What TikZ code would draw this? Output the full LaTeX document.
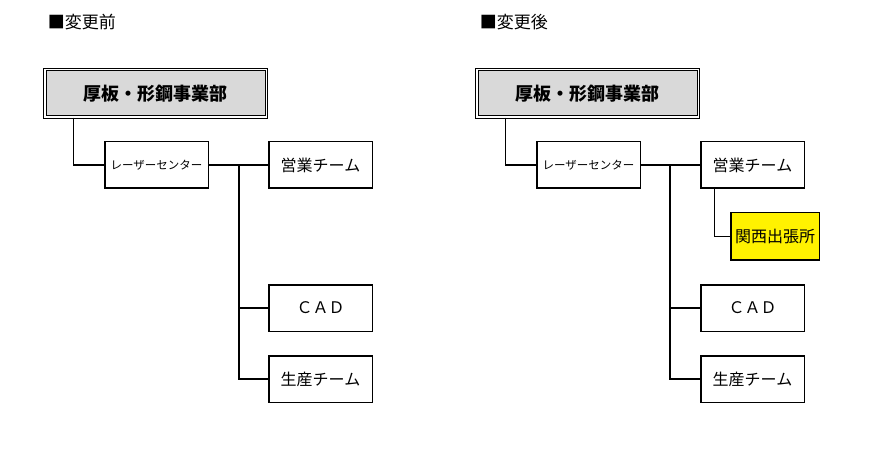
\documentclass[tikz,border=0pt]{standalone}
\usepackage{fontspec}
\newfontfamily\jpfont{Noto Sans CJK JP}

\begin{document}
\begin{tikzpicture}[x=1pt, y=-1pt,
			every node/.style = {shape=rectangle, draw, line width=1.5pt,
				fill=white, align=center, inner sep=0pt,
				minimum width=103.5pt, minimum height=46.5pt,
	font=\jpfont\fontsize{16}{18}\selectfont},
			headbox/.style = {double, double distance=1.5pt, line width=1pt,
	fill=gray!30, minimum width=221.5pt, minimum height=47.5pt,
	font=\jpfont\bfseries\fontsize{18}{20}\selectfont},
			smalltext/.style = {font=\jpfont\fontsize{11.5}{13}\selectfont},
			yellowbox/.style = {fill=yellow, minimum width=88.5pt, minimum height=47.5pt},
			title/.style = {draw=none, fill=none, anchor=west, minimum width=0pt,
	minimum height=0pt, font=\jpfont\fontsize{17}{19}\selectfont},
			link/.style = {line width=1.2pt}]
	\useasboundingbox (0,0) rectangle (889,457);

	\node[title] (titleL) at (47,22) {■変更前};
	\node[headbox] (hqL) at (155.5,93.5) {厚板・形鋼事業部};
	\node[smalltext] (laserL) at (156.5,165) {レーザーセンター};
	\node (eigyoL) at (320.5,165) {営業チーム};
	\node (cadL) at (320.5,308) {ＣＡＤ};
	\node (seisanL) at (320.5,379) {生産チーム};
	\coordinate (jL) at (239,165);
	\draw[link] ([xshift=29.5]hqL.south west) |- (laserL.west);
	\draw[link] (laserL.east) -- (eigyoL.west);
	\draw[link] (jL) |- (seisanL.west);
	\draw[link] (jL |- cadL.west) -- (cadL.west);

	\node[title] (titleR) at (479,22) {■変更後};
	\node[headbox] (hqR) at (587.5,93.5) {厚板・形鋼事業部};
	\node[smalltext] (laserR) at (588.5,165) {レーザーセンター};
	\node (eigyoR) at (752.5,165) {営業チーム};
	\node[yellowbox] (kansaiR) at (775,236.5) {関西出張所};
	\node (cadR) at (752.5,308) {ＣＡＤ};
	\node (seisanR) at (752.5,379) {生産チーム};
	\coordinate (jR) at (670,165);
	\draw[link] ([xshift=29.5]hqR.south west) |- (laserR.west);
	\draw[link] (laserR.east) -- (eigyoR.west);
	\draw[link] ([xshift=14.5]eigyoR.south west) |- (kansaiR.west);
	\draw[link] (jR) |- (seisanR.west);
	\draw[link] (jR |- cadR.west) -- (cadR.west);
\end{tikzpicture}
\end{document}
